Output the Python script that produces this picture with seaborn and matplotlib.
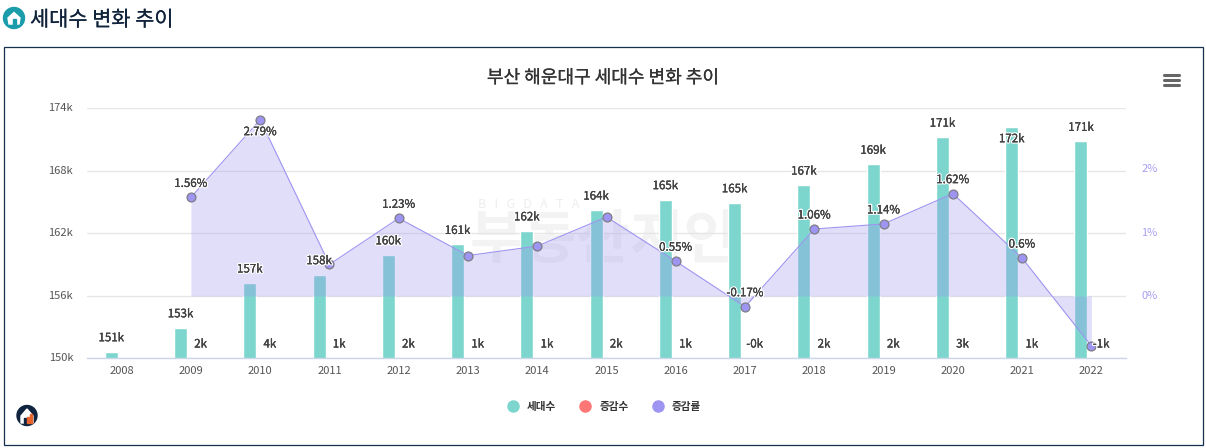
import numpy as np
import pandas as pd
import seaborn as sns
import matplotlib
matplotlib.use("Agg")
import matplotlib.pyplot as plt
import matplotlib.patheffects as pe
from matplotlib.lines import Line2D
from matplotlib.patches import Circle, Polygon, Rectangle, Ellipse
from matplotlib.transforms import ScaledTranslation

# values
years = ['2008', '2009', '2010', '2011', '2012', '2013', '2014', '2015',
         '2016', '2017', '2018', '2019', '2020', '2021', '2022']
households = [150.6, 152.9, 157.2, 158.0, 159.9, 160.9, 162.2, 164.2,
              165.2, 164.9, 166.6, 168.6, 171.2, 172.2, 170.8]
changes = [np.nan, 2.4, 4.2, 0.9, 1.9, 1.0, 1.3, 2.0,
           0.9, -0.3, 1.7, 1.9, 2.7, 1.0, -1.4]
rates = [np.nan, 1.56, 2.79, 0.5, 1.23, 0.64, 0.79, 1.25,
         0.55, -0.17, 1.06, 1.14, 1.62, 0.6, -0.79]
# the chart leaves these rate labels out
rate_labelled = ['2009', '2010', '2012', '2016', '2017', '2018', '2019', '2020', '2021']
left_ticks = [150, 156, 162, 168, 174]
right_ticks = [0, 1, 2]
series_names = ['세대수', '증감수', '증감률']

TEAL = '#7dd6cd'
RED = '#ff7676'
PURPLE = '#9e94f1'
NAVY = '#15304f'

sns.set_theme(style="white")
plt.rcParams['font.family'] = ['Noto Sans CJK KR', 'DejaVu Sans']

W, H = 1206, 448
fig = plt.figure(figsize=(W / 100, H / 100), dpi=100)

# page layer in pixel coords: header, frame, icons, watermark
bg = fig.add_axes([0, 0, 1, 1], zorder=0)
bg.set_xlim(0, W)
bg.set_ylim(H, 0)
bg.axis('off')
bg.add_patch(Rectangle((3.5, 47.5), 1199, 398, fill=False, ec=NAVY, lw=0.9))
bg.add_patch(Circle((14, 18), 10.5, color='#1a9caa'))
bg.add_patch(Polygon([(8, 18), (14, 12.5), (20, 18), (19, 24), (9, 24)], color='white'))
bg.add_patch(Rectangle((12.5, 19), 3, 5, color='#1a9caa'))
bg.text(30, 20, '세대수 변화 추이', fontsize=15, color='#10233a', va='center', ha='left',
        path_effects=[pe.withStroke(linewidth=0.1, foreground='#10233a')])
bg.text(603, 78, '부산 해운대구 세대수 변화 추이', fontsize=13, color='#333333',
        va='center', ha='center', path_effects=[pe.withStroke(linewidth=0.15, foreground='#333333')])
for yy in (75, 80, 85):
    bg.plot([1164, 1179], [yy, yy], color='#666666', lw=2.2, solid_capstyle='round')
bg.add_patch(Ellipse((27, 415.5), 20, 20, color='#10233f'))
bg.add_patch(Polygon([(21, 416), (27, 409), (33, 416), (33, 423), (21, 423)], color='white'))
bg.add_patch(Rectangle((24, 418), 2.2, 5, color='#10233f'))
bg.add_patch(Rectangle((27, 417), 2, 6, color='#e8622c'))
bg.add_patch(Rectangle((30, 414.5), 2, 8.5, color='#e8622c'))
bg.text(478, 205, 'B   I   G   D   A   T   A', fontsize=9, color='#eeeeee', va='center', ha='left')
bg.text(604, 241, '부동산지인', fontsize=42, color='#f3f3f3', va='center', ha='center',
        fontweight='bold')

# plot area 87..1126 x, 108..358 y
ax = fig.add_axes([87 / W, 1 - 358 / H, (1126 - 87) / W, 250 / H], zorder=1)
ax.patch.set_alpha(0)

bars = pd.DataFrame({
    'year': years * 2,
    'value': households + changes,
    'series': ['세대수'] * len(years) + ['증감수'] * len(years),
})
# 증감수 sits far under the axis minimum, so its bars get clipped like in the original
sns.barplot(data=bars, x='year', y='value', hue='series', palette=[TEAL, RED],
            width=0.6, gap=0.375, legend=False, ax=ax, saturation=1)
ax.set_xlim(-0.5, 14.5)
ax.set_ylim(150, 174)
ax.set_yticks(left_ticks)
ax.set_yticklabels([f'{t}k' for t in left_ticks], fontsize=8, color='#555555')
ax.tick_params(axis='y', length=0, pad=10)
ax.tick_params(axis='x', length=0, pad=6, labelsize=8, labelcolor='#555555')
ax.set_xlabel('')
ax.set_ylabel('')
ax.grid(axis='y', color='#e6e6e6', lw=1)
ax.set_axisbelow(True)
sns.despine(ax=ax, left=True, right=True, top=True)
ax.spines['bottom'].set_color('#ccd6eb')
ax.spines['bottom'].set_linewidth(1)
for t in ax.get_yticklabels():
    t.set_transform(t.get_transform() + ScaledTranslation(0, 1 / 100, fig.dpi_scale_trans))

halo = [pe.withStroke(linewidth=2, foreground='white'),
        pe.withStroke(linewidth=0.12, foreground='#444444')]
lab = dict(fontsize=8.3, color='#444444', ha='center', va='center',
           path_effects=halo, zorder=10, annotation_clip=False)

# line + area on the percent axis
ax2 = ax.twinx()
ax2.set_zorder(2)
ax2.patch.set_alpha(0)
ax2.set_ylim(-62 / 63.2, 188 / 63.2)
pos = np.arange(len(years))
ax2.fill_between(pos, rates, 0, color=PURPLE, alpha=0.3, lw=0)
line_df = pd.DataFrame({'pos': pos, 'rate': rates})
sns.lineplot(data=line_df, x='pos', y='rate', ax=ax2, color=PURPLE, lw=0.8, marker='o',
             markersize=6.4, markerfacecolor=PURPLE, markeredgecolor='#7d7d85',
             markeredgewidth=0.9, clip_on=False, zorder=5, errorbar=None)
ax2.set_yticks(right_ticks)
ax2.set_yticklabels([f'{t}%' for t in right_ticks], fontsize=8, color='#a79ff0')
ax2.tick_params(axis='y', length=0, pad=11)
ax2.set_xlabel('')
ax2.set_ylabel('')
ax2.grid(False)
sns.despine(ax=ax2, left=True, right=True, top=True, bottom=True)
for t in ax2.get_yticklabels():
    t.set_transform(t.get_transform() + ScaledTranslation(0, 1.2 / 100, fig.dpi_scale_trans))

# bar totals
for i, (yr, v) in enumerate(zip(years, households)):
    off = 12 if yr == '2021' else -14  # 2021 label falls back inside the bar
    ax2.annotate(f'{v:.0f}k', (i - 0.15, v), xycoords=ax.transData, xytext=(0, -off * 0.72),
                 textcoords='offset points', **lab)
# change labels along the bottom
for i, v in enumerate(changes):
    if not np.isnan(v):
        ax2.annotate(f'{v:.0f}k', (i + 0.14, 0.056), xycoords=ax.get_xaxis_transform(), **lab)
# rate labels
for i, (yr, v) in enumerate(zip(years, rates)):
    if yr in rate_labelled:
        off = 12 if yr == '2010' else -14
        ax2.annotate(f'{v:g}%', (i, v), xytext=(0, -off * 0.72),
                     textcoords='offset points', **lab)

handles = [Line2D([], [], ls='', marker='o', ms=8, color=c) for c in (TEAL, RED, PURPLE)]
leg = fig.legend(handles, series_names, ncol=3, frameon=False, loc='center',
                 bbox_to_anchor=(601.5 / W, 1 - 407 / H), fontsize=7.6,
                 handletextpad=0.35, columnspacing=1.75, borderpad=0)
for t in leg.get_texts():
    t.set_color('#333333')
    t.set_fontweight('bold')

plt.savefig("out.png", dpi=100)
plt.close()
